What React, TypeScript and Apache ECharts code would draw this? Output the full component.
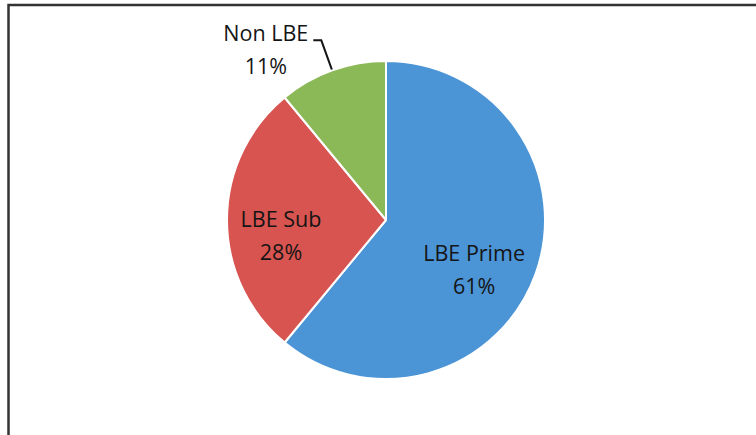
import React, { useEffect, useRef } from 'react';
import * as echarts from 'echarts';

const categories = ['LBE Prime', 'LBE Sub', 'Non LBE'];
const shares = [61, 28, 11];
const sliceColors = ['#4B94D5', '#D85450', '#8CB958'];

const labelPositions = ['inside', 'inside', 'outside'];
const labelShifts: number[][] = [[10.5, 21], [-22.5, 15], [0, 0]];

export default function App() {
  const ref = useRef<HTMLDivElement>(null);
  useEffect(() => {
    const chart = echarts.init(ref.current!, null, { renderer: 'svg' });
    chart.setOption({
      animation: false,
      backgroundColor: '#ffffff',
      graphic: [
        {
          type: 'polyline',
          silent: true,
          shape: { points: [[8.5, 435], [8.5, 5], [756, 5]] },
          style: { stroke: '#333333', lineWidth: 2.5, fill: 'none' },
        },
      ],
      series: [
        {
          type: 'pie',
          center: [386, 220],
          radius: 159,
          startAngle: 90,
          clockwise: true,
          avoidLabelOverlap: false,
          emphasis: { disabled: true },
          itemStyle: { borderColor: '#ffffff', borderWidth: 2 },
          label: {
            formatter: '{t|{b}}\n{t|{c}%}',
            color: '#151515',
            fontFamily: 'Open Sans',
            fontSize: 21.5,
            distanceToLabelLine: 5,
            rich: {
              t: {
                align: 'center',
                fontFamily: 'Open Sans',
                fontSize: 21.5,
                lineHeight: 33,
                color: '#151515',
              },
            },
          },
          labelLine: {
            show: true,
            length: 32,
            length2: 8,
            lineStyle: { color: '#151515', width: 2 },
          },
          labelLayout: (p: any) => ({
            dx: labelShifts[p.dataIndex][0],
            dy: labelShifts[p.dataIndex][1],
          }),
          data: categories.map((name, i) => ({
            name,
            value: shares[i],
            itemStyle: { color: sliceColors[i] },
            label: {
              position: labelPositions[i],
              padding: labelPositions[i] === 'outside' ? [18, 0, 0, 0] : 0,
            },
            labelLine: { show: labelPositions[i] === 'outside' },
          })),
        },
      ],
    });
    return () => chart.dispose();
  }, []);
  return (
    <div
      ref={ref}
      style={{ position: 'fixed', left: 0, top: 0, width: 756, height: 435 }}
    />
  );
}
